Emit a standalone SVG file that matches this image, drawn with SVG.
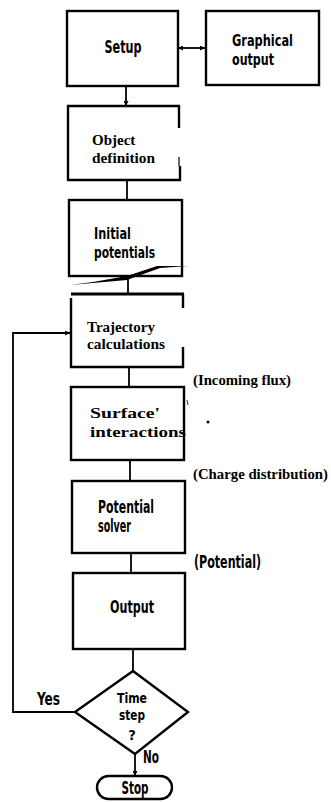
<svg xmlns="http://www.w3.org/2000/svg" width="331" height="802" viewBox="0 0 331 802">
<defs>
<marker id="ah" viewBox="0 0 10 10" refX="10" refY="5" markerWidth="5" markerHeight="5" orient="auto-start-reverse" markerUnits="userSpaceOnUse">
<path d="M0,0 L10,5 L0,10 z" fill="#000"/>
</marker>
<style>
.box{fill:#fff;stroke:#000;stroke-width:2.4}
.ln{fill:none;stroke:#000;stroke-width:1.8}
.sans{font-family:"DejaVu Sans Condensed","DejaVu Sans",sans-serif;font-size:17px;font-weight:bold;fill:#000;font-stretch:condensed}
.sansb{font-family:"DejaVu Sans Condensed","DejaVu Sans",sans-serif;font-size:16px;font-weight:bold;fill:#000;font-stretch:condensed}
.serif{font-family:"Liberation Serif","Times New Roman",serif;font-size:15px;font-weight:bold;fill:#000}
.lab{font-size:14px}
.dm{font-size:14.5px}
.go{font-size:15.5px}
.mid{text-anchor:middle}
</style>
</defs>
<rect width="331" height="802" fill="#fff"/>

<g id="connectors">
<line class="ln" x1="178" y1="48" x2="205" y2="48" marker-start="url(#ah)" marker-end="url(#ah)"/>
<line class="ln" x1="126" y1="86" x2="126" y2="106" marker-end="url(#ah)"/>
<line class="ln" x1="127" y1="181" x2="127" y2="200"/>
<line class="ln" x1="128" y1="278" x2="128" y2="294"/>
<line class="ln" x1="129" y1="367" x2="129" y2="387"/>
<line class="ln" x1="130" y1="460" x2="130" y2="481"/>
<line class="ln" x1="131" y1="553" x2="131" y2="573"/>
<line class="ln" x1="133" y1="649" x2="133" y2="671"/>
<line class="ln" x1="135" y1="754" x2="135" y2="776" marker-end="url(#ah)"/>
<polyline class="ln" points="75,712 13,712 13,333 70,333" marker-end="url(#ah)"/>
</g>

<g id="setup">
<rect class="box" x="67" y="11" width="111" height="75"/>
<text class="sans mid" x="123" y="53" textLength="37" lengthAdjust="spacingAndGlyphs">Setup</text>
</g>

<g id="graphical-output">
<rect class="box" x="206" y="11" width="113" height="74"/>
<text class="sans go" x="232" y="46" textLength="61" lengthAdjust="spacingAndGlyphs">Graphical</text>
<text class="sans go" x="232" y="65" textLength="42" lengthAdjust="spacingAndGlyphs">output</text>
</g>

<g id="object-definition">
<polyline class="ln" style="stroke-width:2.4" points="179,128 179,106 68,106 68,180 180,180 180,166"/>
<line class="ln" x1="179" y1="157" x2="179" y2="166" style="stroke-width:1.2"/>
<text class="serif" x="92" y="145">Object</text>
<text class="serif" x="92" y="163" textLength="63" lengthAdjust="spacingAndGlyphs">definition</text>
</g>

<g id="initial-potentials">
<rect class="box" x="69" y="200" width="113" height="76"/>
<polygon points="70,285 127,280 160,268 188,266 157,266 127,276 93,282" fill="#000"/>
<text class="sansb" x="94" y="239" textLength="37" lengthAdjust="spacingAndGlyphs">Initial</text>
<text class="sansb" x="94" y="258" textLength="61" lengthAdjust="spacingAndGlyphs">potentials</text>
</g>

<g id="trajectory-calculations">
<line x1="71" y1="294" x2="184" y2="294" stroke="#000" stroke-width="3"/>
<polyline class="ln" style="stroke-width:2.4" points="71,298 71,367 183,367 183,347"/>
<line class="ln" style="stroke-width:2.4" x1="183" y1="294" x2="183" y2="308"/>
<text class="serif" x="87" y="332" textLength="68" lengthAdjust="spacingAndGlyphs">Trajectory</text>
<text class="serif" x="87" y="349" textLength="78" lengthAdjust="spacingAndGlyphs">calculations</text>
</g>

<g id="surface-interactions">
<rect class="box" x="71" y="387" width="113" height="73"/>
<text class="serif" x="90" y="418" textLength="70" lengthAdjust="spacingAndGlyphs">Surface'</text>
<text class="serif" x="90" y="437" textLength="96" lengthAdjust="spacingAndGlyphs">interactions</text>
<line x1="187" y1="400" x2="188" y2="405" stroke="#000" stroke-width="0.8"/>
<circle cx="208" cy="422" r="1.5" fill="#000"/>
</g>

<g id="potential-solver">
<rect class="box" x="72" y="481" width="113" height="72"/>
<text class="sans" x="98" y="513" textLength="56" lengthAdjust="spacingAndGlyphs">Potential</text>
<text class="sans" x="98" y="532" textLength="33" lengthAdjust="spacingAndGlyphs">solver</text>
</g>

<g id="output">
<rect class="box" x="73" y="573" width="112" height="76"/>
<text class="sans mid" x="132" y="613" textLength="44" lengthAdjust="spacingAndGlyphs">Output</text>
</g>

<g id="time-step">
<polygon class="box" points="133,671 188,712 135,754 75,712"/>
<text class="sans dm mid" x="132" y="703" textLength="30" lengthAdjust="spacingAndGlyphs">Time</text>
<text class="sans dm mid" x="132" y="720" textLength="26" lengthAdjust="spacingAndGlyphs">step</text>
<text class="sans dm mid" x="132" y="740">?</text>
</g>

<g id="stop">
<rect class="box" x="97" y="776" width="75" height="23" rx="11.5"/>
<text class="sans mid" x="135" y="794" textLength="27" lengthAdjust="spacingAndGlyphs">Stop</text>
</g>

<g id="labels">
<text class="serif lab" x="193" y="385" textLength="98" lengthAdjust="spacingAndGlyphs">(Incoming flux)</text>
<text class="serif lab" x="193" y="479" textLength="135" lengthAdjust="spacingAndGlyphs">(Charge distribution)</text>
<text class="sans" x="194" y="568" textLength="67" lengthAdjust="spacingAndGlyphs">(Potential)</text>
<text class="sans" x="37" y="705" textLength="23" lengthAdjust="spacingAndGlyphs">Yes</text>
<text class="sans" x="143" y="763" textLength="16" lengthAdjust="spacingAndGlyphs">No</text>
</g>
</svg>
